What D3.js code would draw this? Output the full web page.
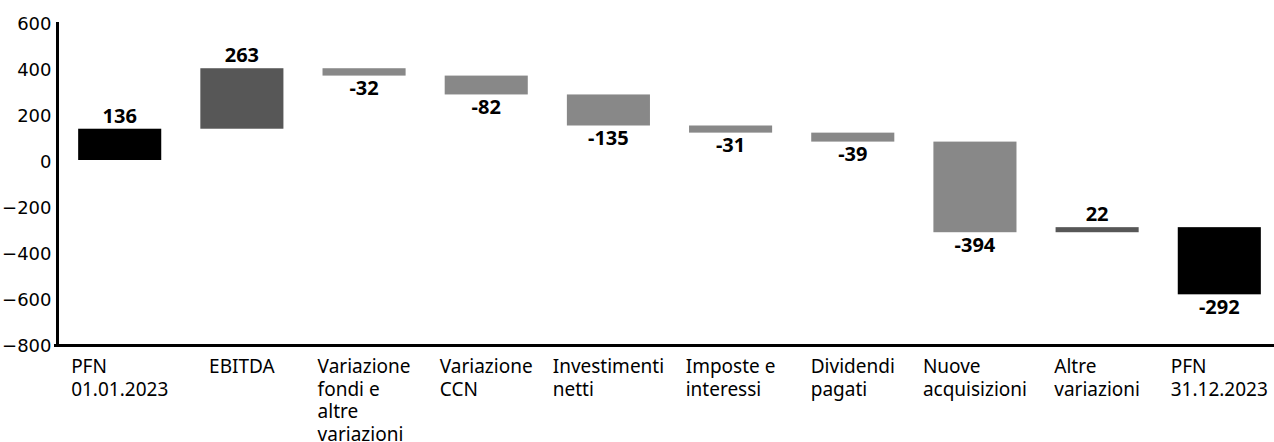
<!DOCTYPE html>
<html>
<head>
<meta charset="utf-8">
<script src="https://cdn.jsdelivr.net/npm/d3@7"></script>
<style>
  html, body { margin: 0; padding: 0; background: #fff; }
  svg { display: block; }
</style>
</head>
<body>
<div id="chart"></div>
<script>
// ---- data ----
const categories = [
  ["PFN", "01.01.2023"],
  ["EBITDA"],
  ["Variazione", "fondi e", "altre", "variazioni"],
  ["Variazione", "CCN"],
  ["Investimenti", "netti"],
  ["Imposte e", "interessi"],
  ["Dividendi", "pagati"],
  ["Nuove", "acquisizioni"],
  ["Altre", "variazioni"],
  ["PFN", "31.12.2023"]
];
const values = [136, 263, -32, -82, -135, -31, -39, -394, 22, -292];
const kinds = ["total", "delta", "delta", "delta", "delta", "delta", "delta", "delta", "delta", "total"];
const yTicks = [-800, -600, -400, -200, 0, 200, 400, 600];

// ---- layout ----
const W = 1274, H = 442;
const svg = d3.select("#chart").append("svg").attr("width", W).attr("height", H);

const y = d3.scaleLinear().domain([-800, 600]).range([344, 22]);
const x = d3.scaleBand().domain(d3.range(categories.length))
  .range([58, 1281]).paddingInner(0.32).paddingOuter(0.165);

// waterfall: each bar runs from the running total by its value
let run = 0;
const bars = values.map((v, i) => {
  const start = run, end = run + v;
  run = end;
  return { i, v, kind: kinds[i], start, end };
});
const color = d => d.kind === "total" ? "#000000" : (d.v >= 0 ? "#575757" : "#888888");

svg.append("g").selectAll("rect").data(bars).join("rect")
  .attr("x", d => x(d.i))
  .attr("width", x.bandwidth())
  .attr("y", d => y(Math.max(d.start, d.end)))
  .attr("height", d => Math.abs(y(d.start) - y(d.end)))
  .attr("fill", color);

// value labels
svg.append("g").selectAll("text").data(bars).join("text")
  .attr("x", d => x(d.i) + x.bandwidth() / 2)
  .attr("y", d => d.v >= 0 ? y(Math.max(d.start, d.end)) - 6 : y(Math.min(d.start, d.end)) + 19.5)
  .attr("text-anchor", "middle")
  .attr("font-family", "'Noto Sans', sans-serif")
  .attr("font-weight", "bold")
  .attr("font-size", 20)
  .attr("fill", "#000")
  .text(d => d.v);

// y axis
const yAxis = d3.axisLeft(y).tickValues(yTicks).tickSize(0).tickPadding(6).tickFormat(d3.format("d"));
const gy = svg.append("g").attr("transform", "translate(57.5,0)").call(yAxis);
gy.select(".domain").attr("stroke", "#000").attr("stroke-width", 3).attr("d", `M0,${y(600)}V${y(-800) + 2}`);
gy.selectAll("text")
  .attr("font-family", "'DejaVu Sans', sans-serif")
  .attr("font-size", 18)
  .attr("fill", "#000")
  .attr("dy", "0.42em");

// x axis line
svg.append("line")
  .attr("x1", 54).attr("x2", W)
  .attr("y1", y(-800) + 1.5).attr("y2", y(-800) + 1.5)
  .attr("stroke", "#000").attr("stroke-width", 3);

// category labels
const cat = svg.append("g").selectAll("text").data(categories).join("text")
  .attr("font-family", "'Noto Sans', sans-serif")
  .attr("font-size", 19)
  .attr("fill", "#000")
  .attr("y", 373);
cat.each(function(lines) {
  const t = d3.select(this);
  lines.forEach((ln, k) => {
    t.append("tspan").attr("x", 0).attr("dy", k === 0 ? 0 : 22.5).text(ln);
  });
});
cat.each(function(lines, i) {
  const t = d3.select(this);
  let w = 0;
  t.selectAll("tspan").each(function() { w = Math.max(w, this.getComputedTextLength()); });
  const left = x(i) + x.bandwidth() / 2 - w / 2;
  t.selectAll("tspan").attr("x", left);
});
</script>
</body>
</html>
